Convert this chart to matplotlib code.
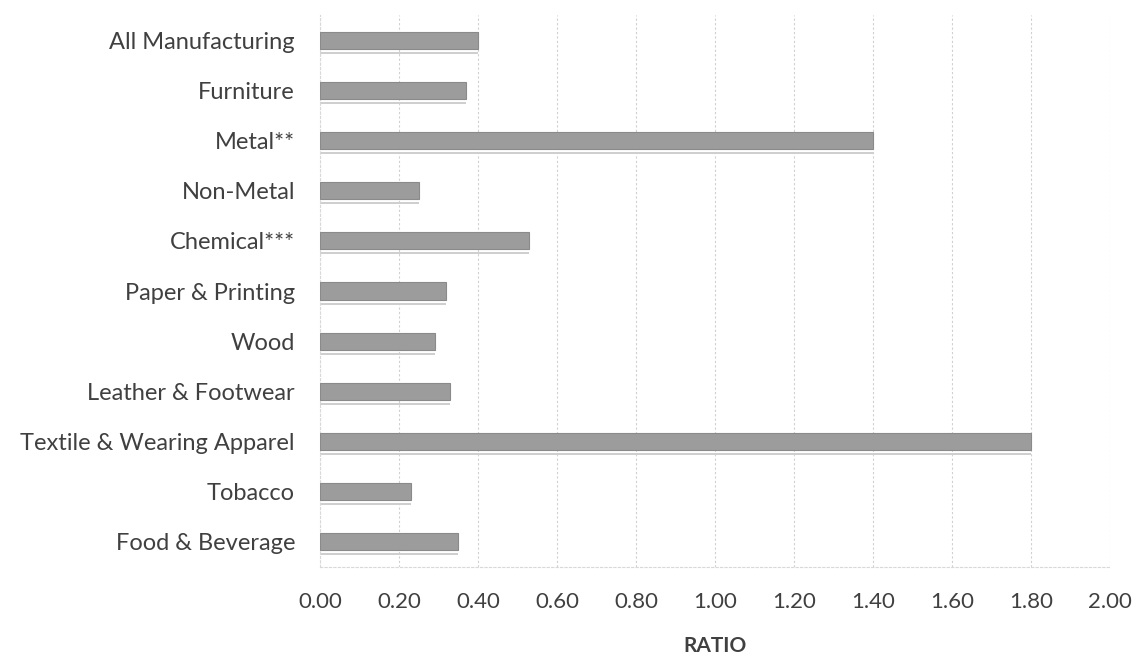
import numpy as np
import matplotlib.pyplot as plt

plt.rcParams['font.family'] = ['Lato', 'DejaVu Sans']

# 数据（自下而上）
categories = ['Food & Beverage', 'Tobacco', 'Textile & Wearing Apparel',
              'Leather & Footwear', 'Wood', 'Paper & Printing', 'Chemical***',
              'Non-Metal', 'Metal**', 'Furniture', 'All Manufacturing']
ratios = [0.35, 0.23, 1.80, 0.33, 0.29, 0.32, 0.53, 0.25, 1.40, 0.37, 0.40]
xticks = [0.0, 0.2, 0.4, 0.6, 0.8, 1.0, 1.2, 1.4, 1.6, 1.8, 2.0]

fig = plt.figure(figsize=(11.4, 6.56), dpi=100)
ax = fig.add_axes([320 / 1140, 1 - 567 / 656, 790 / 1140, 552 / 656])

y = np.arange(len(categories))
# 阴影线
ax.barh(y - 0.25, ratios, height=0.04, color='#cfcfcf', zorder=2)
ax.barh(y, ratios, height=0.34, color='#9c9c9c', edgecolor='#8a8a8a',
        linewidth=0.8, zorder=3)

ax.set_xlim(0, 2.0)
ax.set_ylim(-0.5, len(categories) - 0.5)
ax.set_xticks(xticks)
ax.set_xticklabels([f'{v:.2f}' for v in xticks], fontsize=16, color='#404040')
ax.set_yticks(y)
ax.set_yticklabels(categories, fontsize=17, color='#404040')
ax.tick_params(length=0)
ax.tick_params(axis='y', pad=18)
ax.tick_params(axis='x', pad=18)

ax.grid(axis='x', color='#d0d0d0', linestyle=(0, (2, 2)), linewidth=0.8, zorder=0)
for s in ['top', 'right']:
    ax.spines[s].set_visible(False)
for s in ['left', 'bottom']:
    ax.spines[s].set_color('#d8d8d8')
    ax.spines[s].set_linestyle((0, (2, 2)))

ax.set_xlabel('RATIO', fontsize=15, fontweight='bold', color='#404040', labelpad=17)

fig.savefig('out.png', dpi=100, facecolor='white')
